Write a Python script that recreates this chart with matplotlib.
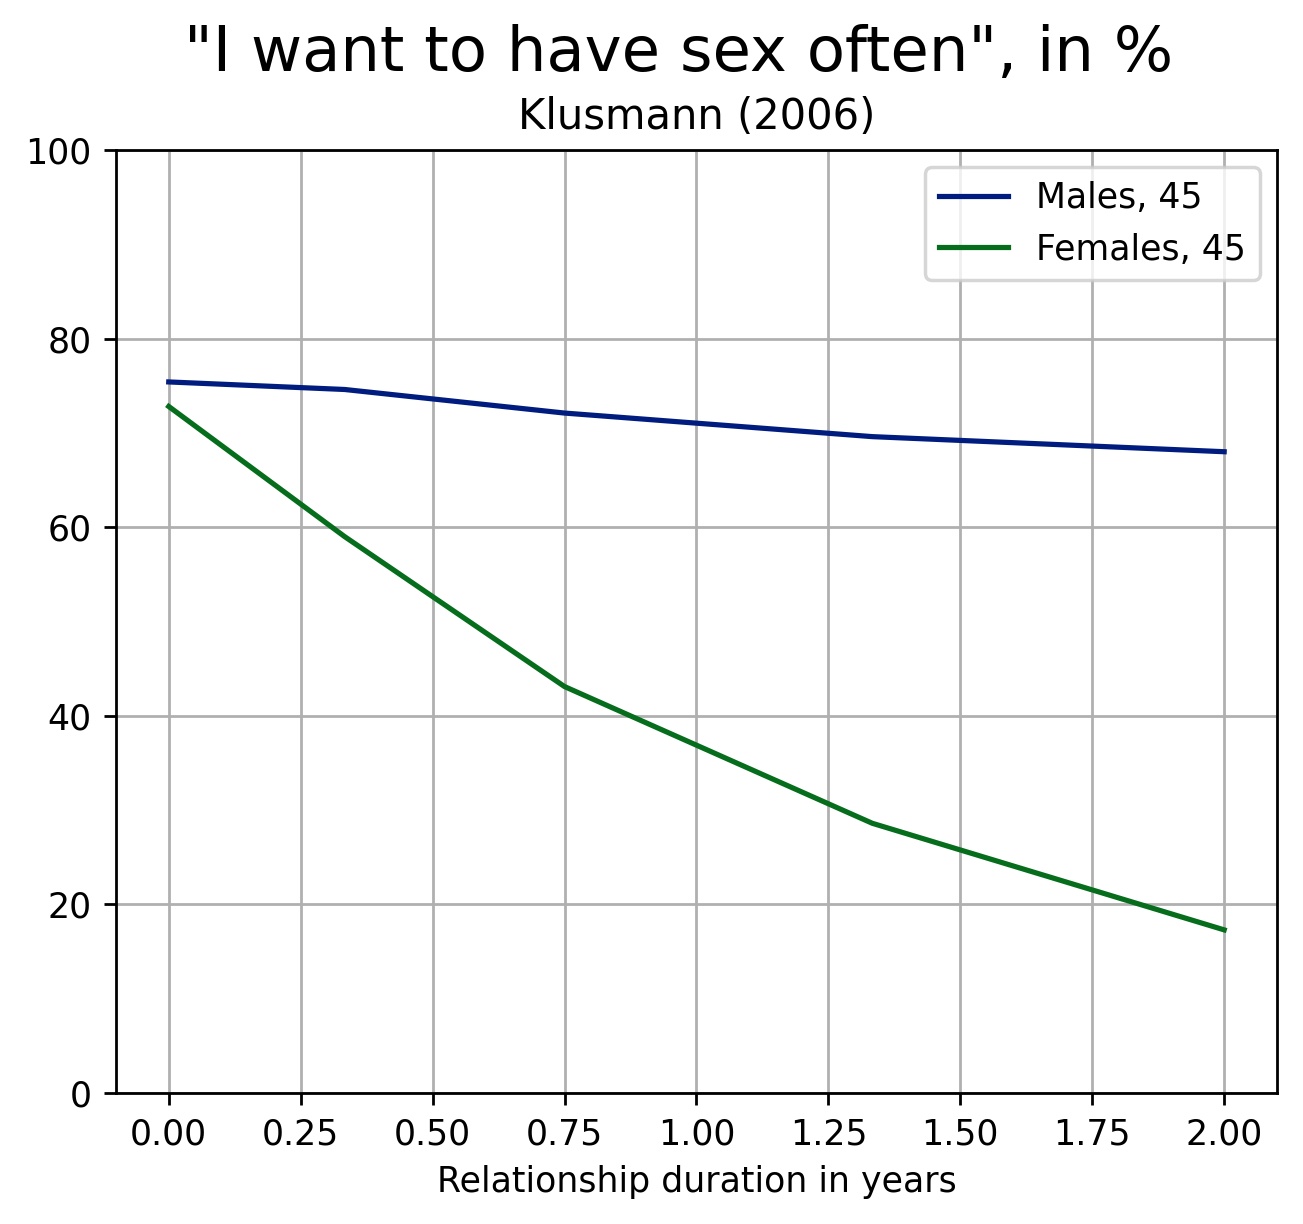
import matplotlib
matplotlib.use("Agg")
import matplotlib.pyplot as plt

years = [0.0, 1 / 3, 0.75, 4 / 3, 2.0]
males = [75.4, 74.6, 72.1, 69.6, 68.0]
females = [72.8, 59.0, 43.1, 28.6, 17.3]

fig = plt.figure(figsize=(5.212, 4.896), dpi=250)
ax = fig.add_axes([0.089, 0.107, 0.891, 0.7705])

ax.plot(years, males, color="#001c7f", linewidth=1.5, label="Males, 45")
ax.plot(years, females, color="#056d1b", linewidth=1.5, label="Females, 45")

ax.set_ylim(0, 100)
ax.set_xlim(-0.1, 2.1)
ax.set_xticks([0, 0.25, 0.5, 0.75, 1.0, 1.25, 1.5, 1.75, 2.0])
ax.grid(True, color="#b0b0b0", linewidth=0.8)
ax.set_axisbelow(True)
ax.tick_params(labelsize=10)
ax.set_xlabel("Relationship duration in years", fontsize=10)
ax.set_title("Klusmann (2006)", fontsize=12)
fig.suptitle('"I want to have sex often", in %', fontsize=18, x=0.521, y=0.98)
ax.legend(loc="upper right", fontsize=10)

fig.savefig("out.png", dpi=250)
